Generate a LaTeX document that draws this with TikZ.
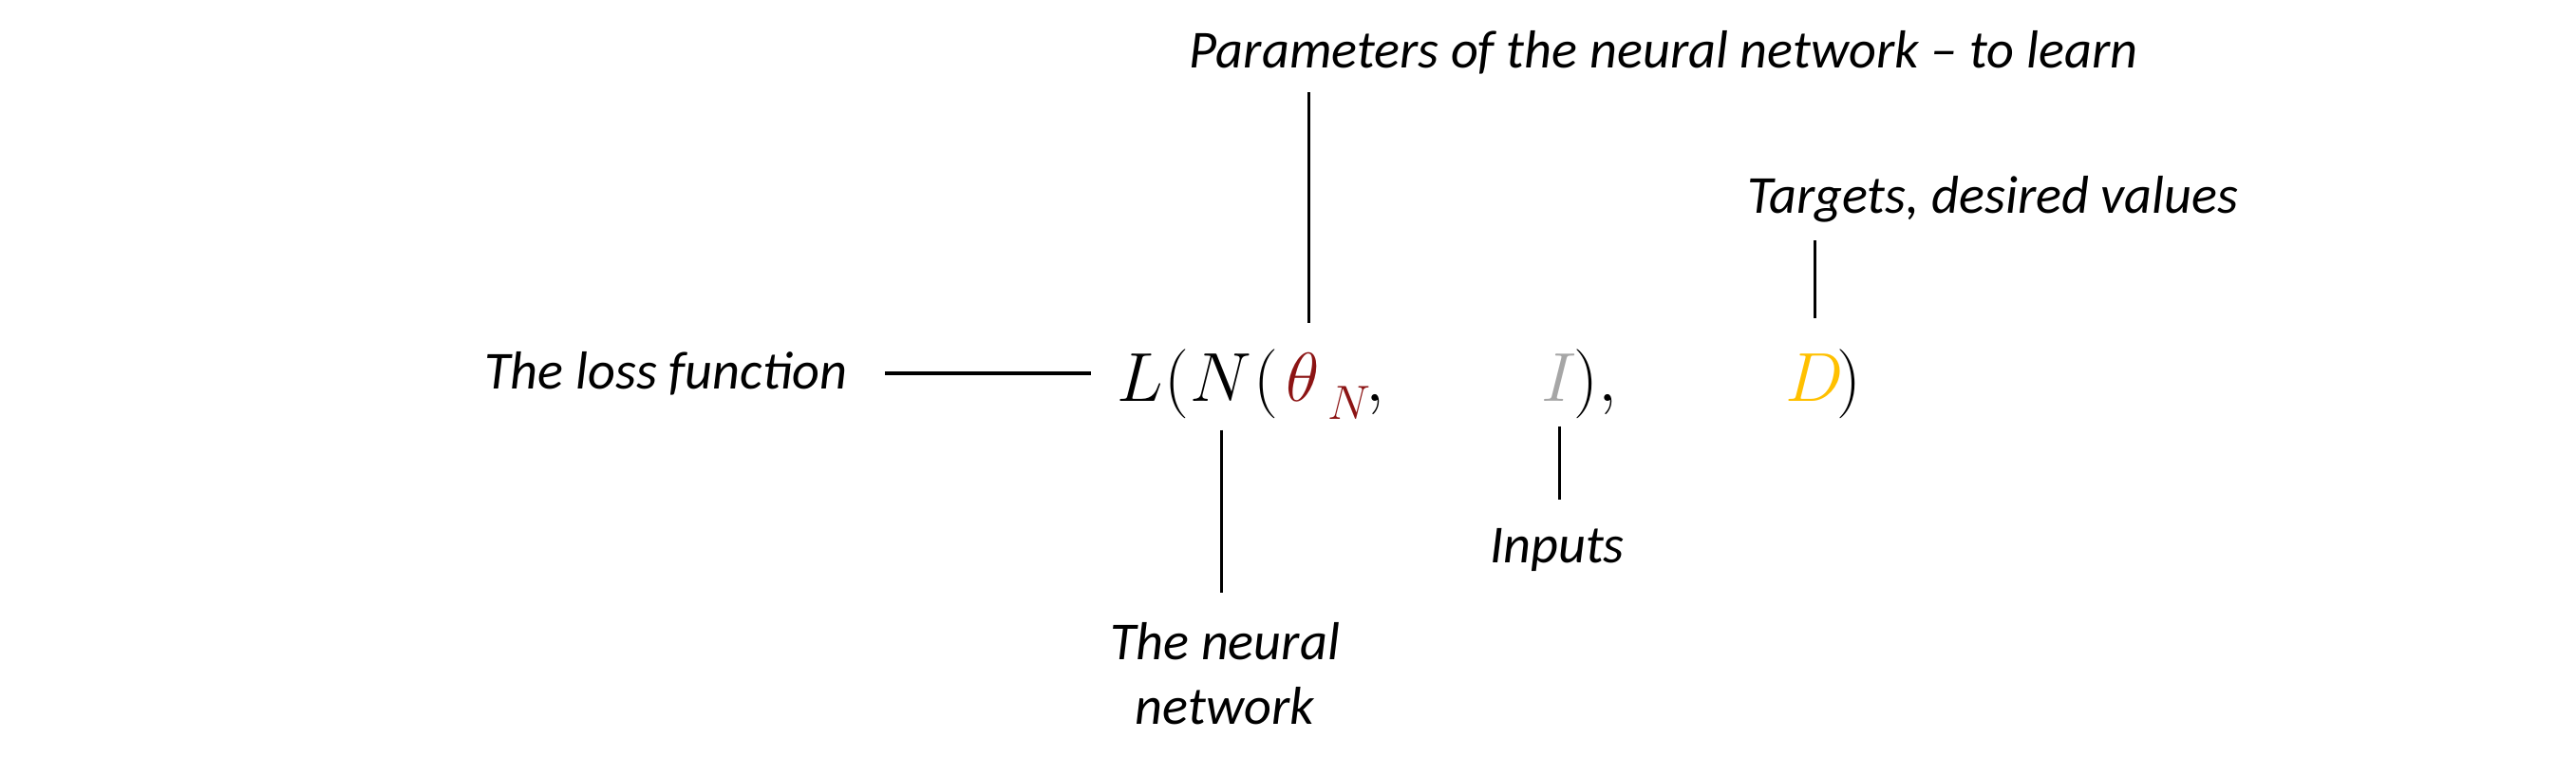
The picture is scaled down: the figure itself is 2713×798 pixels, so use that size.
\documentclass[tikz,border=0pt]{standalone}
\usepackage{fontspec}
\setmainfont{Carlito}
\usetikzlibrary{calc}
\definecolor{thetared}{RGB}{140,20,20}
\definecolor{inputgray}{RGB}{166,166,166}
\definecolor{targetgold}{RGB}{255,192,0}
\tikzset{
  lbl/.style={inner sep=0pt, font=\fontsize{16}{19.4}\selectfont\itshape},
  fx/.style={inner sep=0pt, anchor=base west, font=\fontsize{21.5}{26}\selectfont},
  fxsub/.style={inner sep=0pt, anchor=base west, font=\fontsize{15.5}{18}\selectfont},
  conn/.style={draw=black, line width=1pt}
}
\begin{document}
\begin{tikzpicture}[x=0.01cm,y=-0.01cm]
\useasboundingbox (0,0) rectangle (2713,798);
% formula
\node[fx] (L) at (1176,423) {$L$};
\node[fx] (p1) at (L.base east) {$($};
\node[fx] (N) at (p1.base east) {$N$};
\node[fx] (p2) at (N.base east) {$($};
\node[fx, text=thetared] (theta) at (1354,423) {$\theta$};
\node[fxsub, text=thetared] (sub) at (1398,442) {$N$};
\node[fx] (c1) at (1438,423) {$,$};
\node[fx, text=inputgray] (I) at (1623,423) {$I$};
\node[fx] (p3) at (1657,423) {$),$};
\node[fx, text=targetgold] (D) at (1880,423) {$D$};
\node[fx] (p4) at (1934,423) {$)$};
% labels
\node[lbl, anchor=base] (params) at (1752,72) {Parameters of the neural network – to learn};
\node[lbl, anchor=base] (targets) at (2099,225) {Targets, desired values};
\node[lbl, anchor=base east] (loss) at (893,410) {The loss function};
\node[lbl, anchor=base] (inputs) at (1640,593) {Inputs};
\node[lbl, anchor=north, align=center] (net) at (1290,655) {The neural\\network};
% connectors
\draw[conn, shorten <=0.18cm, shorten >=0.32cm] ($(theta.north |- params.south)+(6,0)$) -- ($(theta.north)+(6,0)$);
\draw[conn, shorten <=0.18cm, shorten >=0.37cm] (D.north |- targets.south) -- (D.north);
\draw[conn, shorten <=0.39cm, shorten >=0.27cm] ($(L.west -| loss.east)+(0,-5)$) -- ($(L.west)+(0,-5)$);
\draw[conn, shorten <=0.25cm, shorten >=0.30cm] (I.south) -- (I.south |- inputs.north);
\draw[conn, shorten <=0.29cm, shorten >=0.31cm] (N.south) -- (N.south |- net.north);
\end{tikzpicture}
\end{document}
